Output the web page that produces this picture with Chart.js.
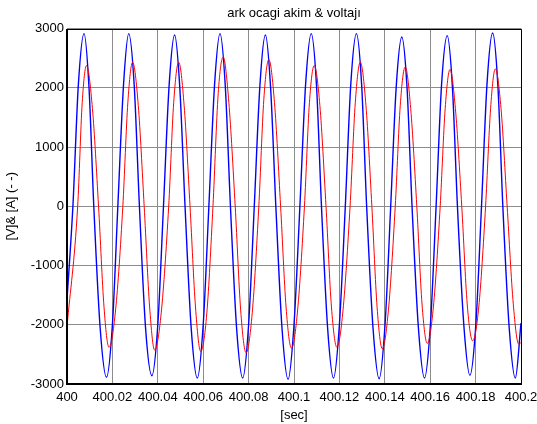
<!DOCTYPE html>
<html>
<head>
<meta charset="utf-8">
<script src="https://cdn.jsdelivr.net/npm/chart.js@4.4.1/dist/chart.umd.min.js"></script>
<style>
  html, body { margin: 0; padding: 0; background: #fff; }
  canvas { display: block; }
</style>
</head>
<body>
<canvas id="c" width="537" height="424" style="width:537px;height:424px"></canvas>
<script>
// Time axis in milliseconds after t = 400 s
const voltageTimeMs = [
  0,
  2.6, 5.0, 7.5, 9.7, 11.8, 14.6, 17.4, 20.0,
  22.4, 24.9, 27.2, 29.6, 31.9, 34.6, 37.4, 40.0,
  42.5, 45.0, 47.4, 49.7, 52.0, 54.7, 57.4, 60.0,
  62.5, 65.0, 67.4, 69.7, 72.0, 74.7, 77.4, 80.0,
  82.5, 85.0, 87.4, 89.7, 92.0, 94.7, 97.4, 100.0,
  102.6, 105.1, 107.6, 109.9, 112.1, 114.8, 117.4, 120.0,
  122.6, 125.0, 127.5, 129.8, 132.0, 134.8, 137.5, 140.1,
  142.6, 145.0, 147.5, 149.8, 152.0, 154.8, 157.5, 160.1,
  162.6, 165.0, 167.5, 169.8, 172.0, 174.8, 177.5, 180.1,
  182.6, 185.0, 187.5, 189.8, 192.0, 194.8, 197.5, 200.0
];
const voltageValues = [
  -1580,
  0, 2050, 2916, 2000, 0, -2050, -2887, -2000,
  0, 2050, 2916, 2050, 0, -2050, -2860, -2000,
  0, 2050, 2892, 2000, 0, -2050, -2899, -2000,
  0, 2050, 2916, 2050, 0, -2050, -2899, -2000,
  0, 2050, 2892, 2000, 0, -2050, -2921, -2000,
  0, 2050, 2916, 2050, 0, -2050, -2899, -2000,
  0, 2050, 2916, 2050, 0, -2050, -2911, -2000,
  0, 2000, 2859, 2000, 0, -2050, -2899, -2000,
  0, 2050, 2882, 2000, 0, -2000, -2854, -2000,
  0, 2050, 2926, 2050, 0, -2050, -2899, -1970
];

const currentTimeMs = [
  0,
  4.7, 6.7, 8.6, 11.2, 13.9, 16.3, 18.5, 21.4,
  24.6, 26.8, 28.9, 31.4, 34.0, 36.4, 38.6, 41.5,
  44.8, 47.0, 49.2, 51.6, 54.2, 56.6, 58.9, 61.6,
  64.3, 66.6, 68.8, 71.3, 74.1, 76.5, 78.9, 81.6,
  84.5, 86.7, 88.9, 91.4, 94.1, 96.5, 98.9, 101.6,
  104.6, 106.8, 108.9, 111.4, 114.1, 116.5, 118.9, 121.6,
  124.7, 127.0, 129.2, 131.7, 134.3, 136.6, 138.9, 141.6,
  144.6, 146.8, 149.0, 151.4, 154.1, 156.4, 158.7, 161.4,
  164.4, 166.6, 168.7, 171.1, 173.9, 176.3, 178.7, 181.4,
  184.4, 186.6, 188.7, 191.2, 193.9, 196.6, 199.0, 200.0
];
const currentValues = [
  -2035,
  0, 1750, 2376, 1650, 0, -1700, -2381, -1750,
  0, 1750, 2432, 1700, 0, -1700, -2427, -1800,
  0, 1750, 2432, 1700, 0, -1700, -2449, -1800,
  0, 1900, 2521, 1750, 0, -1750, -2472, -1800,
  0, 1800, 2477, 1750, 0, -1700, -2398, -1750,
  0, 1750, 2376, 1700, 0, -1700, -2381, -1750,
  0, 1750, 2432, 1700, 0, -1700, -2405, -1750,
  0, 1700, 2353, 1650, 0, -1650, -2314, -1700,
  0, 1650, 2309, 1650, 0, -1650, -2270, -1700,
  0, 1650, 2319, 1650, 0, -1650, -2326, -2300
];

const xTickValues = [400, 400.02, 400.04, 400.06, 400.08, 400.1, 400.12, 400.14, 400.16, 400.18, 400.2];
const yTickValues = [-3000, -2000, -1000, 0, 1000, 2000, 3000];

const FONT = 'Liberation Sans, Arial, Helvetica, sans-serif';
const toPoints = (times, values) => times.map((t, i) => ({ x: 400 + t / 1000, y: values[i] }));

// Black box around the plot area, heavier on the left and bottom
const framePlugin = {
  id: 'frame',
  afterDatasetsDraw(chart) {
    const { ctx, chartArea: a } = chart;
    ctx.save();
    ctx.strokeStyle = '#000';
    ctx.lineWidth = 1;
    ctx.beginPath();
    ctx.moveTo(Math.round(a.left), Math.round(a.top) + 0.5);
    ctx.lineTo(Math.round(a.right) + 0.5, Math.round(a.top) + 0.5);
    ctx.lineTo(Math.round(a.right) + 0.5, Math.round(a.bottom));
    ctx.stroke();
    ctx.lineWidth = 2;
    ctx.beginPath();
    ctx.moveTo(Math.round(a.left), Math.round(a.top));
    ctx.lineTo(Math.round(a.left), Math.round(a.bottom));
    ctx.lineTo(Math.round(a.right) + 1, Math.round(a.bottom));
    ctx.stroke();
    ctx.restore();
  }
};

new Chart(document.getElementById('c'), {
  type: 'line',
  data: {
    datasets: [
      {
        label: 'voltaj',
        data: toPoints(voltageTimeMs, voltageValues),
        borderColor: '#0000ff',
        borderWidth: 1.4,
        pointRadius: 0,
        cubicInterpolationMode: 'monotone',
        fill: false,
        order: 1
      },
      {
        label: 'akim',
        data: toPoints(currentTimeMs, currentValues),
        borderColor: '#ff0000',
        borderWidth: 1,
        pointRadius: 0,
        cubicInterpolationMode: 'monotone',
        fill: false,
        order: 0
      }
    ]
  },
  options: {
    responsive: false,
    animation: false,
    devicePixelRatio: 1,
    layout: { padding: { left: 0, right: 16, top: 0, bottom: 0 } },
    plugins: {
      legend: { display: false },
      tooltip: { enabled: false },
      title: {
        display: true,
        text: 'ark ocagi akim & voltajı',
        fullSize: false,
        color: '#000',
        font: { family: FONT, size: 13, weight: 'normal' },
        padding: { top: 6, bottom: 7 }
      }
    },
    scales: {
      x: {
        type: 'linear',
        min: 400,
        max: 400.2,
        afterBuildTicks: s => { s.ticks = xTickValues.map(v => ({ value: v })); },
        afterFit: s => { s.height = 40; s.paddingLeft = 0; s.paddingRight = 16; },
        ticks: {
          color: '#000',
          font: { family: FONT, size: 13 },
          padding: 6,
          maxRotation: 0,
          autoSkip: false,
          callback: v => String(Number(v.toFixed(2)))
        },
        grid: { color: '#8c8c8c', lineWidth: 1, drawTicks: false },
        border: { display: false },
        title: {
          display: true,
          text: '[sec]',
          color: '#000',
          font: { family: FONT, size: 13 },
          padding: { top: 0, bottom: 1 }
        }
      },
      y: {
        type: 'linear',
        min: -3000,
        max: 3000,
        afterBuildTicks: s => { s.ticks = yTickValues.map(v => ({ value: v })); },
        afterFit: s => { s.width = 67; },
        ticks: {
          color: '#000',
          font: { family: FONT, size: 13 },
          padding: 3,
          callback: v => String(v)
        },
        grid: { color: '#8c8c8c', lineWidth: 1, drawTicks: false },
        border: { display: false },
        title: {
          display: true,
          text: '[V]& [A] (- -)',
          color: '#000',
          font: { family: FONT, size: 13 },
          padding: { top: 4, bottom: 0 }
        }
      }
    }
  },
  plugins: [framePlugin]
});
</script>
</body>
</html>
